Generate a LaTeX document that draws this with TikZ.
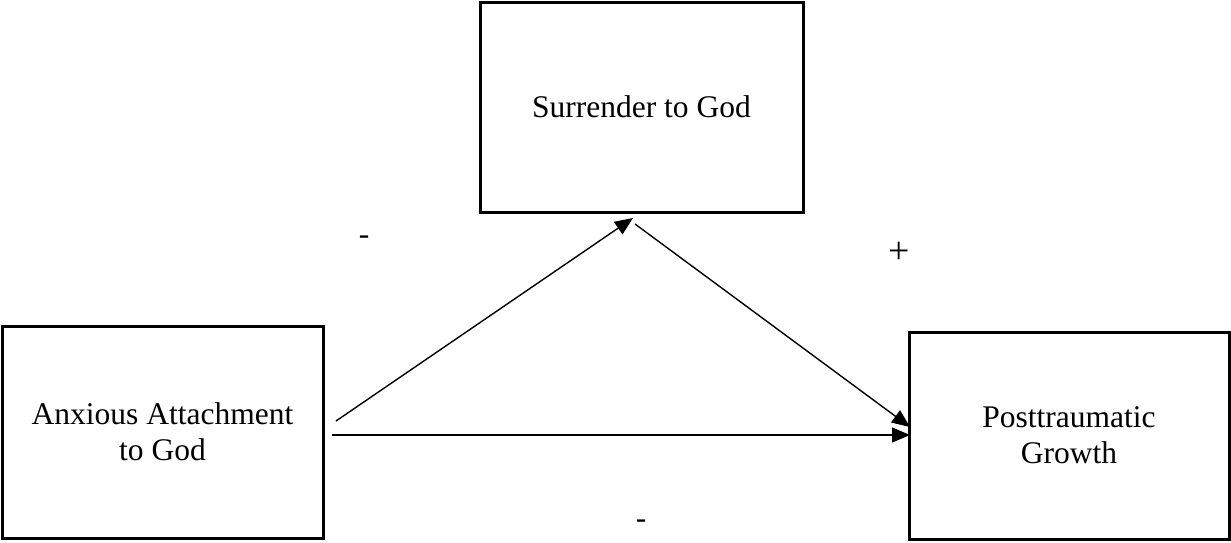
\documentclass[tikz,border=0pt]{standalone}
\usepackage{fontspec}
\setmainfont{Liberation Serif}
\usetikzlibrary{arrows.meta}
\begin{document}
\begin{tikzpicture}[x=1pt,y=-1pt,
  varbox/.style={draw=black,line width=3pt,rectangle,inner sep=0pt,align=center,
    font=\fontsize{31.5}{36}\selectfont},
  path/.style={line width=1.4pt,-{Triangle[length=18pt,width=15pt]}},
  sign/.style={font=\fontsize{31.5}{36}\selectfont,inner sep=0pt}]
\useasboundingbox (0,0) rectangle (1231,542);
\node[varbox,minimum width=321pt,minimum height=212pt] (L) at (162.5,432) {Anxious Attachment\\to God};
\node[varbox,minimum width=323pt,minimum height=210pt] (T) at (641.5,107) {Surrender to God};
\node[varbox,minimum width=320pt,minimum height=207pt] (R) at (1069,435.5) {Posttraumatic\\Growth};
\coordinate (a1s) at (336,421);
\coordinate (a1e) at (633,218);
\coordinate (a2s) at (635,224);
\coordinate (a2e) at (910,427);
\coordinate (a3s) at (332,435);
\coordinate (a3e) at (910,435);
\draw[path] (a1s) -- (a1e);
\draw[path] (a2s) -- (a2e);
\draw[path] (a3s) -- (a3e);
\node[sign] (s1) at (364,240) {-};
\node[sign,scale=1.2] (s2) at (899,253) {+};
\node[sign] (s3) at (641,524) {-};
\end{tikzpicture}
\end{document}
